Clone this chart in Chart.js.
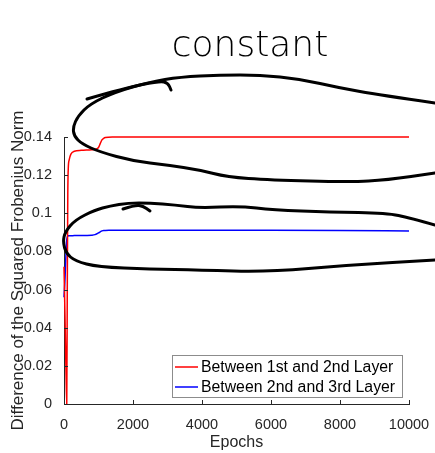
<!DOCTYPE html>
<html>
<head>
<meta charset="utf-8">
<script src="https://cdn.jsdelivr.net/npm/chart.js@4/dist/chart.umd.min.js"></script>
<style>
  html, body { margin: 0; padding: 0; background: #fff; }
  #wrap { width: 435px; height: 453px; position: relative; }
</style>
</head>
<body>
<div id="wrap"><canvas id="frob-chart"></canvas></div>
<script>
const epochs = [0, 30, 60, 80, 95, 110, 125, 150, 200, 300, 500, 800, 900, 1000, 1050, 1100, 1150, 1200, 1400, 2000, 4000, 6000, 8000, 10000];
const layer12 = [0.072, 0.045, 0.015, 0.0, 0.06, 0.11, 0.124, 0.128, 0.131, 0.1325, 0.133, 0.1333, 0.1335, 0.1345, 0.1365, 0.1385, 0.1393, 0.1397, 0.14, 0.14, 0.14, 0.14, 0.14, 0.14];
const layer23 = [0.056, 0.066, 0.080, 0.086, 0.0875, 0.088, 0.0882, 0.0882, 0.0882, 0.0883, 0.0883, 0.0885, 0.0888, 0.0897, 0.0903, 0.0908, 0.091, 0.091, 0.0911, 0.0911, 0.0911, 0.0911, 0.091, 0.0907];
const seriesNames = ["Between 1st and 2nd Layer", "Between 2nd and 3rd Layer"];
const yTicks = [0, 0.02, 0.04, 0.06, 0.08, 0.1, 0.12, 0.14];
const xTicks = [0, 2000, 4000, 6000, 8000, 10000];

const axisColor = "#262626";
const fontFamily = "'Liberation Sans', Arial, sans-serif";

function toPoints(values) {
  return epochs.map(function (e, i) { return { x: e, y: values[i] }; });
}

// inward tick marks, MATLAB style
const innerTicks = {
  id: "innerTicks",
  afterDatasetsDraw(chart) {
    const ctx = chart.ctx;
    const xs = chart.scales.x, ys = chart.scales.y;
    ctx.save();
    ctx.strokeStyle = axisColor;
    ctx.lineWidth = 1;
    xTicks.forEach(function (t) {
      const px = Math.round(xs.getPixelForValue(t)) + 0.5;
      ctx.beginPath();
      ctx.moveTo(px, ys.bottom);
      ctx.lineTo(px, ys.bottom - 4);
      ctx.stroke();
    });
    yTicks.forEach(function (t) {
      const py = Math.round(ys.getPixelForValue(t)) + 0.5;
      ctx.beginPath();
      ctx.moveTo(xs.left, py);
      ctx.lineTo(xs.left + 4, py);
      ctx.stroke();
    });
    ctx.restore();
  }
};

// legend box inside the axes, bottom right
const insideLegend = {
  id: "insideLegend",
  afterDatasetsDraw(chart) {
    const ctx = chart.ctx;
    const area = chart.chartArea;
    const boxRight = area.right - 7, boxBottom = area.bottom - 7;
    const boxW = 230, boxH = 42;
    const left = boxRight - boxW, top = boxBottom - boxH;
    ctx.save();
    ctx.fillStyle = "#fff";
    ctx.fillRect(left, top, boxW, boxH);
    ctx.strokeStyle = "#8c8c8c";
    ctx.lineWidth = 1;
    ctx.strokeRect(left + 0.5, top + 0.5, boxW, boxH);
    ctx.font = "15.8px " + fontFamily;
    ctx.textBaseline = "middle";
    chart.data.datasets.forEach(function (ds, i) {
      const cy = top + 12 + i * 20;
      ctx.strokeStyle = ds.borderColor;
      ctx.lineWidth = 1.5;
      ctx.beginPath();
      ctx.moveTo(left + 3, cy);
      ctx.lineTo(left + 26, cy);
      ctx.stroke();
      ctx.fillStyle = "#000";
      ctx.fillText(ds.label, left + 29, cy + 1);
    });
    ctx.restore();
  }
};

// hand-drawn marks on top of the figure
const scribbles = [
  [[87, 99], [125, 88], [160, 81], [168, 83], [171, 90]],
  [[435, 103], [380, 95], [340, 88], [300, 79], [260, 75], [220, 75], [180, 77], [150, 82], [115, 92], [90, 104], [78, 116], [73, 127], [74, 136], [82, 144], [100, 152], [133, 161], [167, 165], [200, 170], [227, 177], [270, 180], [350, 182], [387, 180], [435, 173]],
  [[123, 209], [135, 205], [143, 206], [150, 211]],
  [[435, 225], [410, 218], [387, 213], [330, 212], [273, 210], [240, 206], [200, 208], [175, 205], [150, 203], [128, 203], [110, 206], [95, 210], [75, 220], [65, 232], [63, 242], [66, 253], [75, 261], [98, 267], [150, 269], [200, 270], [267, 272], [350, 265], [435, 260]]
];

const handDrawn = {
  id: "handDrawn",
  afterDraw(chart) {
    const ctx = chart.ctx;
    ctx.save();
    ctx.strokeStyle = "#000";
    ctx.lineWidth = 3;
    ctx.lineCap = "round";
    ctx.lineJoin = "round";
    scribbles.forEach(function (pts) {
      ctx.beginPath();
      ctx.moveTo(pts[0][0], pts[0][1]);
      for (let i = 1; i < pts.length - 1; i++) {
        const mx = (pts[i][0] + pts[i + 1][0]) / 2;
        const my = (pts[i][1] + pts[i + 1][1]) / 2;
        ctx.quadraticCurveTo(pts[i][0], pts[i][1], mx, my);
      }
      const last = pts[pts.length - 1];
      ctx.lineTo(last[0], last[1]);
      ctx.stroke();
    });
    ctx.fillStyle = "#000";
    ctx.font = "200 36px 'DejaVu Sans', sans-serif";
    ctx.textAlign = "center";
    ctx.textBaseline = "alphabetic";
    ctx.fillText("constant", 250, 56);
    ctx.restore();
  }
};

const ctx = document.getElementById("frob-chart");

new Chart(ctx, {
  type: "line",
  data: {
    datasets: [
      {
        label: seriesNames[0],
        data: toPoints(layer12),
        borderColor: "#ff0000",
        borderWidth: 1.5,
        pointRadius: 0,
        cubicInterpolationMode: "monotone",
        clip: false,
        fill: false
      },
      {
        label: seriesNames[1],
        data: toPoints(layer23),
        borderColor: "#0000ff",
        borderWidth: 1.5,
        pointRadius: 0,
        cubicInterpolationMode: "monotone",
        clip: false,
        fill: false
      }
    ]
  },
  options: {
    responsive: true,
    maintainAspectRatio: false,
    animation: false,
    layout: {
      padding: { top: 137, right: 26, left: 0, bottom: 0 }
    },
    plugins: {
      legend: { display: false },
      tooltip: { enabled: false }
    },
    scales: {
      x: {
        type: "linear",
        min: 0,
        max: 10000,
        afterBuildTicks: function (scale) {
          scale.ticks = xTicks.map(function (v) { return { value: v }; });
        },
        afterFit: function (scale) { scale.height = 49; },
        grid: { display: false },
        border: { display: true, color: axisColor, width: 1 },
        ticks: {
          color: axisColor,
          font: { family: fontFamily, size: 14.5 },
          padding: 4,
          maxRotation: 0,
          callback: function (v) { return String(v); }
        },
        title: {
          display: true,
          text: "Epochs",
          color: axisColor,
          font: { family: fontFamily, size: 16 },
          padding: { top: 0, bottom: 1 }
        }
      },
      y: {
        type: "linear",
        min: 0,
        max: 0.14,
        afterBuildTicks: function (scale) {
          scale.ticks = yTicks.map(function (v) { return { value: v }; });
        },
        afterFit: function (scale) { scale.width = 64; },
        grid: { display: false },
        border: { display: true, color: axisColor, width: 1 },
        ticks: {
          color: axisColor,
          font: { family: fontFamily, size: 14.5 },
          padding: 4,
          callback: function (v) { return String(Math.round(v * 100) / 100); }
        },
        title: {
          display: true,
          text: "Difference of the Squared Frobenius Norm",
          color: axisColor,
          font: { family: fontFamily, size: 17 },
          padding: { top: 8, bottom: 0 }
        }
      }
    }
  },
  plugins: [innerTicks, insideLegend, handDrawn]
});
</script>
</body>
</html>
